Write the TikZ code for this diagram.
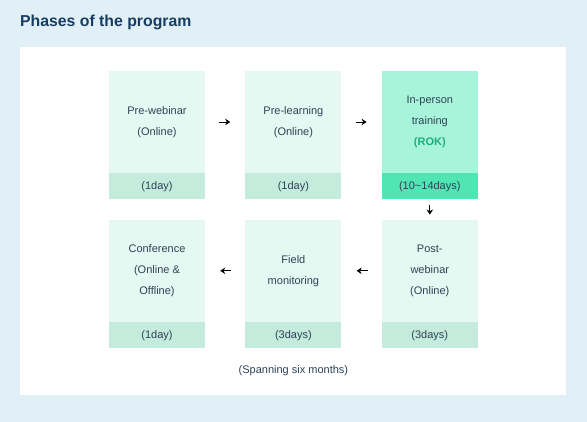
\documentclass[tikz,border=0pt]{standalone}
\usepackage{fontspec}
\setmainfont{Liberation Sans}
\usetikzlibrary{arrows.meta,positioning}
\definecolor{pagebg}{HTML}{E1EFF6}
\definecolor{titleblue}{HTML}{173D63}
\definecolor{inktxt}{HTML}{2E4257}
\definecolor{phasebg}{HTML}{E5F8F1}
\definecolor{daysbg}{HTML}{C4EBDC}
\definecolor{rokbg}{HTML}{A8F4DA}
\definecolor{rokdays}{HTML}{52E5B4}
\definecolor{rokgreen}{HTML}{1CAF7C}

\begin{document}
\begin{tikzpicture}[x=1pt, y=-1pt, font=\fontsize{11}{21}\selectfont, node distance=20pt and 40pt, every node/.style={align=center, text=inktxt}, phase/.style={minimum width=96pt, minimum height=102pt, inner sep=0pt, fill=phasebg}, days/.style={minimum width=96pt, minimum height=26pt, inner sep=0pt, fill=daysbg}, arrow/.style={-{Stealth[length=5pt,width=6.5pt]}, thick, shorten >=15pt, shorten <=14pt}]
\fill[pagebg] (0,0) rectangle (587,422);
\fill[white] (20,47) rectangle (566,395);
\node[anchor=west, inner sep=0pt, font=\bfseries\fontsize{15.8}{18}\selectfont, text=titleblue] (title) at (20,22) {Phases of the program};
% first row
\node[phase] (prewebinar) at (157,122) {Pre-webinar\\(Online)};
\node[days, below=0pt of prewebinar] (prewebinar-d) {(1day)};
\node[phase, right=of prewebinar] (prelearning) {Pre-learning\\(Online)};
\node[days, below=0pt of prelearning] (prelearning-d) {(1day)};
\node[phase, fill=rokbg, right=of prelearning] (training) {In-person\\training\\\textcolor{rokgreen}{\bfseries (ROK)}};
\node[days, fill=rokdays, below=0pt of training] (training-d) {(10\textasciitilde 14days)};
% second row
\node[phase, below=of training-d] (postwebinar) {Post-\\webinar\\(Online)};
\node[days, below=0pt of postwebinar] (postwebinar-d) {(3days)};
\node[phase, left=of postwebinar] (fieldmon) {Field\\monitoring};
\node[days, below=0pt of fieldmon] (fieldmon-d) {(3days)};
\node[phase, left=of fieldmon] (conference) {Conference\\(Online \&\\Offline)};
\node[days, below=0pt of conference] (conference-d) {(1day)};
\node[below=14pt of fieldmon-d] (span) {(Spanning six months)};
\draw[arrow] (prewebinar) -- (prelearning);
\draw[arrow] (prelearning) -- (training);
\draw[arrow, shorten >=5pt, shorten <=5pt] (training-d) -- (postwebinar);
\draw[arrow] (postwebinar) -- (fieldmon);
\draw[arrow] (fieldmon) -- (conference);
\end{tikzpicture}
\end{document}
